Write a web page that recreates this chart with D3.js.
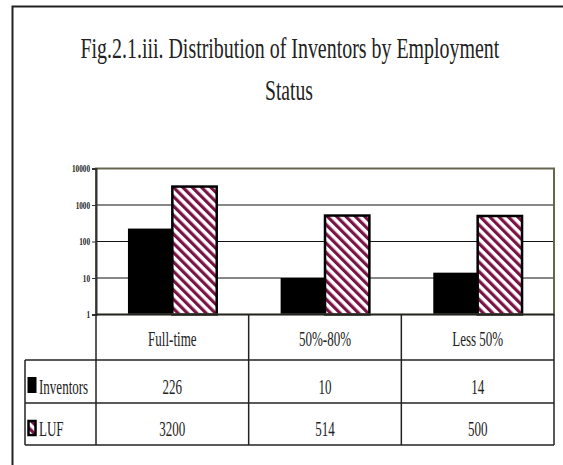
<!DOCTYPE html>
<html>
<head>
<meta charset="utf-8">
<script src="https://cdn.jsdelivr.net/npm/d3@7"></script>
<style>
  body { margin: 0; background: #fff; }
  svg { display: block; }
  text { font-family: "Liberation Serif", "Times New Roman", serif; fill: #222; }
</style>
</head>
<body>
<div id="chart"></div>
<script>
// data
const categories = ['Full-time', '50%-80%', 'Less 50%'];
const seriesNames = ['Inventors', 'LUF'];
const inventors = [226, 10, 14];
const luf = [3200, 514, 500];
const yTicks = [1, 10, 100, 1000, 10000];

const width = 563;
const height = 465;

const svg = d3.select('#chart')
  .append('svg')
  .attr('width', width)
  .attr('height', height);

// stripes for LUF bars
const defs = svg.append('defs');
defs.append('pattern')
  .attr('id', 'stripes')
  .attr('patternUnits', 'userSpaceOnUse')
  .attr('width', 6.6)
  .attr('height', 6.6)
  .attr('patternTransform', 'rotate(-45)')
  .call(p => {
    p.append('rect').attr('width', 6.6).attr('height', 6.6).attr('fill', '#fff');
    p.append('rect').attr('width', 3.2).attr('height', 6.6).attr('fill', '#7a1446');
  });

// outer frame (only left and top edge show)
svg.append('path')
  .attr('d', `M12.5,${height} V6.5 H${width}`)
  .attr('fill', 'none')
  .attr('stroke', '#222')
  .attr('stroke-width', 2);

// condensed text helper
function ctext(g, x, y, str, size, sx, anchor) {
  return g.append('text')
    .attr('transform', `translate(${x},${y}) scale(${sx},1)`)
    .attr('text-anchor', anchor || 'middle')
    .attr('font-size', size)
    .text(str);
}

// title, squeezed to the width it has in the figure
function fitTitle(str, left, base, targetW) {
  const t = svg.append('text')
    .attr('font-size', 30)
    .attr('fill', '#333')
    .text(str);
  const w = t.node().getComputedTextLength();
  t.attr('transform', `translate(${left},${base}) scale(${targetW / w},1)`);
}
fitTitle('Fig.2.1.iii. Distribution of Inventors by Employment', 80.5, 57.5, 419);
fitTitle('Status', 265, 99.5, 48);

// plot area
const plot = { left: 96, right: 554, top: 168.5, bottom: 314.5 };

const x = d3.scaleBand()
  .domain(categories)
  .range([plot.left, plot.right]);

const xInner = d3.scaleBand()
  .domain(seriesNames)
  .range([0, x.bandwidth()])
  .paddingOuter(0.72);

const y = d3.scaleLog()
  .domain([1, 10000])
  .range([plot.bottom, plot.top]);

// gridlines
svg.append('g')
  .selectAll('line')
  .data(yTicks.slice(1, -1))
  .join('line')
  .attr('x1', plot.left).attr('x2', plot.right)
  .attr('y1', d => y(d)).attr('y2', d => y(d))
  .attr('stroke', '#111')
  .attr('stroke-width', 1);

// bars
const rows = categories.map((c, i) => ({ cat: c, values: [inventors[i], luf[i]] }));

const groups = svg.append('g')
  .selectAll('g')
  .data(rows)
  .join('g')
  .attr('transform', d => `translate(${x(d.cat)},0)`);

groups.selectAll('rect')
  .data(d => d.values.map((v, j) => ({ key: seriesNames[j], value: v })))
  .join('rect')
  .attr('x', d => xInner(d.key))
  .attr('width', xInner.bandwidth())
  .attr('y', d => y(d.value))
  .attr('height', d => plot.bottom - y(d.value))
  .attr('fill', d => d.key === 'Inventors' ? '#000' : 'url(#stripes)')
  .attr('stroke', '#000')
  .attr('stroke-width', d => d.key === 'Inventors' ? 0 : 2.5);

// plot border
svg.append('rect')
  .attr('x', plot.left).attr('y', plot.top)
  .attr('width', plot.right - plot.left)
  .attr('height', plot.bottom - plot.top)
  .attr('fill', 'none')
  .attr('stroke', '#66664f')
  .attr('stroke-width', 2);

// y axis
const yAxis = svg.append('g')
  .attr('transform', `translate(${plot.left},0)`)
  .call(d3.axisLeft(y).tickValues(yTicks).tickFormat(d3.format('d')).tickSize(4));
yAxis.select('.domain').attr('stroke', '#333').attr('stroke-width', 2);
yAxis.selectAll('.tick line').attr('stroke', '#333');
yAxis.selectAll('.tick text')
  .attr('font-family', '"Liberation Serif", serif')
  .attr('font-size', 10)
  .attr('font-weight', 'bold')
  .attr('fill', '#333')
  .attr('x', -6 / 0.72)
  .attr('transform', 'scale(0.72,1)');

// data table
const table = svg.append('g');
const rowY = [314.5, 360, 403, 445];
const labelLeft = 25;
const lineColor = '#222';

// horizontal lines
table.append('line')
  .attr('x1', plot.left).attr('x2', plot.right)
  .attr('y1', rowY[0]).attr('y2', rowY[0])
  .attr('stroke', lineColor).attr('stroke-width', 1.5);
rowY.slice(1).forEach(ry => {
  table.append('line')
    .attr('x1', labelLeft).attr('x2', plot.right)
    .attr('y1', ry).attr('y2', ry)
    .attr('stroke', lineColor).attr('stroke-width', 1.5);
});
// vertical lines
const colEdges = categories.map(c => x(c)).concat([plot.right]);
colEdges.forEach(cx => {
  table.append('line')
    .attr('x1', cx).attr('x2', cx)
    .attr('y1', rowY[0]).attr('y2', rowY[3])
    .attr('stroke', lineColor).attr('stroke-width', 1.5);
});
table.append('line')
  .attr('x1', labelLeft).attr('x2', labelLeft)
  .attr('y1', rowY[1]).attr('y2', rowY[3])
  .attr('stroke', lineColor).attr('stroke-width', 1.5);

// header text
categories.forEach(c => {
  ctext(table, x(c) + x.bandwidth() / 2, 346, c, 21, 0.62);
});

// series rows
const seriesRows = [
  { name: 'Inventors', values: inventors, base: 394 },
  { name: 'LUF', values: luf, base: 436 }
];
seriesRows.forEach(r => {
  r.values.forEach((v, i) => {
    ctext(table, x(categories[i]) + x.bandwidth() / 2, r.base, v, 21, 0.62);
  });
  ctext(table, 39, r.base, r.name, 21, 0.62, 'start');
});

// legend keys
table.append('rect')
  .attr('x', 27.5).attr('y', 377)
  .attr('width', 9).attr('height', 16)
  .attr('fill', '#000');
table.append('rect')
  .attr('x', 28.5).attr('y', 421)
  .attr('width', 7).attr('height', 14)
  .attr('fill', 'url(#stripes)')
  .attr('stroke', '#000')
  .attr('stroke-width', 2.5);
</script>
</body>
</html>
